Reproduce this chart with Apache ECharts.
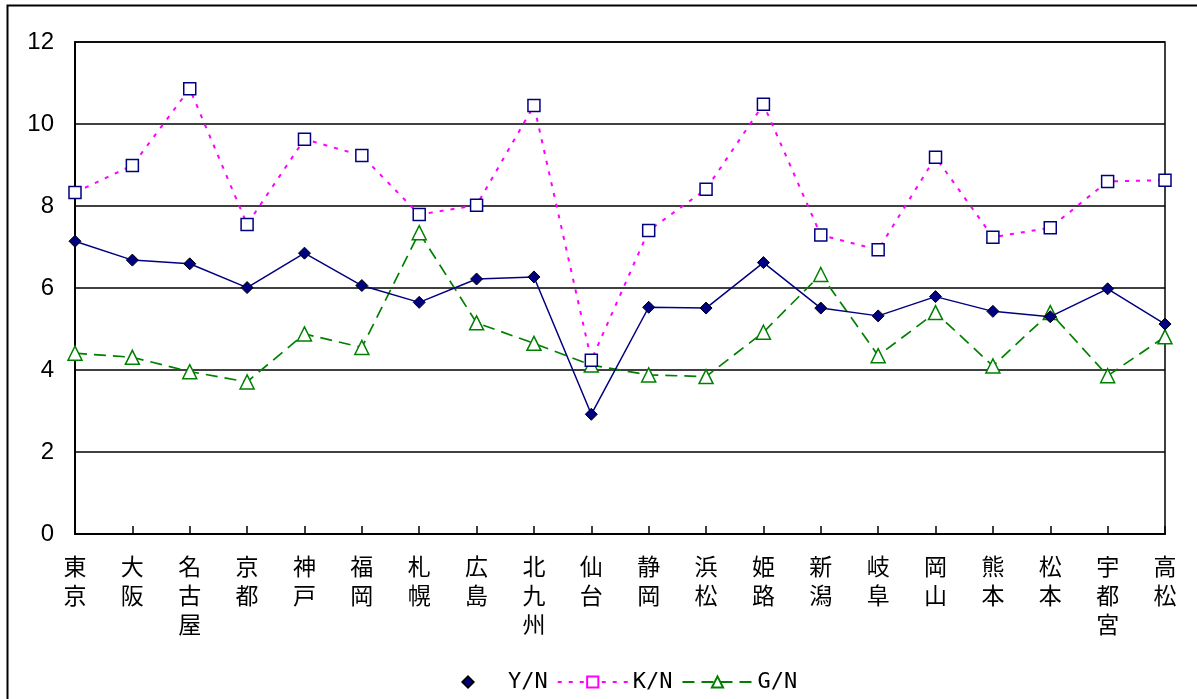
<!DOCTYPE html>
<html>
<head>
<meta charset="utf-8">
<script src="https://cdn.jsdelivr.net/npm/echarts@6/dist/echarts.min.js"></script>
<style>
html,body{margin:0;padding:0;background:#fff;}
#c{width:1197px;height:699px;}
</style>
</head>
<body>
<div id="c"></div>
<script>
var categories = ['東京','大阪','名古屋','京都','神戸','福岡','札幌','広島','北九州','仙台','静岡','浜松','姫路','新潟','岐阜','岡山','熊本','松本','宇都宮','高松'];
var seriesNames = ['Y/N','K/N','G/N'];
var yn = [7.14,6.68,6.59,6.01,6.85,6.06,5.65,6.22,6.27,2.92,5.53,5.51,6.62,5.51,5.32,5.79,5.43,5.30,5.98,5.12];
var kn = [8.33,8.99,10.86,7.55,9.63,9.23,7.79,8.02,10.45,4.24,7.40,8.41,10.48,7.29,6.93,9.19,7.24,7.47,8.60,8.63];
var gn = [4.41,4.31,3.96,3.71,4.88,4.55,7.35,5.15,4.65,4.12,3.88,3.84,4.92,6.33,4.35,5.40,4.10,5.40,3.86,4.81];
var yTicks = [0,2,4,6,8,10,12];

var chart = echarts.init(document.getElementById('c'), null, {renderer:'canvas'});
chart.setOption({
  animation:false,
  backgroundColor:'#fff',
  graphic:[{
    type:'rect', silent:true, z:-1,
    shape:{x:7.5,y:5.5,width:1300,height:800},
    style:{fill:'none',stroke:'#000',lineWidth:2}
  }],
  grid:{left:75,right:32,top:42,bottom:165,show:true,borderColor:'#000',borderWidth:1.5,backgroundColor:'transparent'},
  legend:{
    left:427, top:666, itemWidth:70, itemHeight:14, itemGap:9,
    textStyle:{fontFamily:'DejaVu Sans Mono',fontSize:22,color:'#000'},
    data:[
      {name:'Y/N', lineStyle:{opacity:0}},
      {name:'K/N', itemStyle:{borderColor:'#FF00FF',color:'#fff'}},
      {name:'G/N'}
    ]
  },
  xAxis:{
    type:'category', data:categories, boundaryGap:false,
    axisLine:{lineStyle:{color:'#000',width:2}},
    axisTick:{show:true,inside:true,length:8,lineStyle:{color:'#000',width:1.5}},
    axisLabel:{interval:0,margin:18,color:'#000',fontFamily:'Noto Sans CJK JP',fontSize:23,lineHeight:29,
      formatter:function(v){return v.split('').join('\n');}},
    splitLine:{show:false}
  },
  yAxis:{
    type:'value', min:yTicks[0], max:yTicks[yTicks.length-1], interval:2,
    axisLine:{show:true,lineStyle:{color:'#000',width:2}},
    axisTick:{show:false},
    axisLabel:{margin:21,color:'#000',fontFamily:'Liberation Sans',fontSize:24},
    splitLine:{show:true,lineStyle:{color:'#000',width:1.5}}
  },
  series:[
    {name:seriesNames[2], type:'line', data:gn, symbol:'triangle', symbolSize:14, showSymbol:true,
      lineStyle:{color:'#008000',width:1.7,type:[12,7]},
      itemStyle:{color:'#fff',borderColor:'#008000',borderWidth:1.5}, z:3},
    {name:seriesNames[1], type:'line', data:kn, symbol:'rect', symbolSize:12, showSymbol:true,
      lineStyle:{color:'#FF00FF',width:2,type:[4,7]},
      itemStyle:{color:'#fff',borderColor:'#000080',borderWidth:1.5}, z:4},
    {name:seriesNames[0], type:'line', data:yn, symbol:'diamond', symbolSize:12, showSymbol:true,
      lineStyle:{color:'#000080',width:1.5},
      itemStyle:{color:'#000080',borderColor:'#000',borderWidth:1}, z:5}
  ]
});
</script>
</body>
</html>
